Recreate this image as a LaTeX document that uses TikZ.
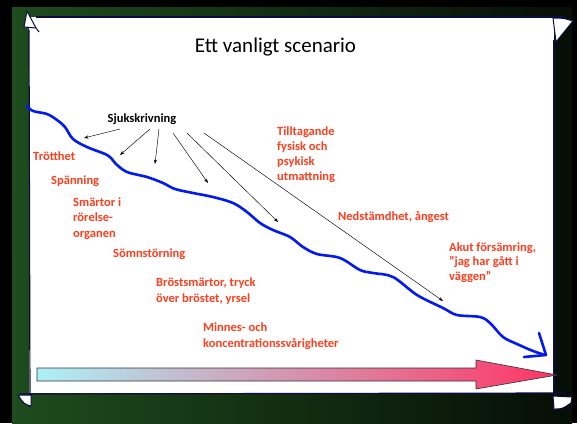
\documentclass[tikz,border=0pt]{standalone}
\usepackage{fontspec}
\setmainfont{Carlito}
\usetikzlibrary{arrows.meta}
\definecolor{lbl}{RGB}{255,62,30}
\definecolor{navy}{RGB}{12,12,64}
\definecolor{bgreen}{RGB}{30,76,30}
\definecolor{bdark}{RGB}{6,14,6}
\definecolor{curve}{RGB}{0,26,240}
\definecolor{acyan}{RGB}{172,240,246}
\definecolor{amid}{RGB}{205,192,208}
\definecolor{apink}{RGB}{255,52,100}
\tikzset{
  lab/.style={font=\fontsize{12.5}{#1}\selectfont\bfseries, text=lbl, inner sep=0pt, anchor=base west, align=left},
  lab/.default=15,
  ptr/.style={draw=black, line width=0.45pt, -{Stealth[length=4.5pt,width=3.2pt]}},
  edge/.style={draw=navy, line width=1.2pt},
  flap/.style={fill=white, draw=navy, line width=1pt, line join=round},
}
\begin{document}
\begin{tikzpicture}[x=1pt,y=-1pt]
\useasboundingbox (0,0) rectangle (577,423);
% background
\fill[black] (0,0) rectangle (577,423);
\shade[left color=bgreen, right color=bdark] (12,7) rectangle (572,423);
% paper
\fill[white] (29,17) rectangle (554,393);
\draw[edge] (36,17) -- (565,17);
\draw[edge] (554,40) -- (554,393);
\draw[edge] (20,394) -- (566,393);
\draw[edge] (29,30) -- (30,407);
% curled corners
\draw[flap] (27,11) -- (36,28) -- (24,27) -- cycle;
\draw[navy, line width=1pt] (36,28) -- (39,32);
\draw[flap] (553,18) .. controls (563,18) .. (573,21) -- (556,42) -- cycle;
\draw[flap] (18,395) -- (31,395) -- (31,406) .. controls (24,404) .. (18,395);
\draw[flap] (553,396) -- (572,397) -- (571,403) .. controls (562,409) .. (554,409) -- cycle;
% big arrow
\shade[left color=acyan, middle color=amid, right color=apink, draw=black!80, line width=0.6pt]
  (37,368) -- (476,368) -- (476,360) -- (557,375) -- (476,389) -- (476,381) -- (37,381) -- cycle;
% title
\node[font=\fontsize{21}{25}\selectfont, inner sep=0pt, anchor=base] (title) at (275.5,52) {Ett vanligt scenario};
% blue curve
\draw[curve, line width=2.6pt, line cap=round, line join=round] plot[smooth, tension=0.55] coordinates {
 (27,106) (33,111) (47,114) (57,120) (65,127) (73,139) (87,147) (105,154) (111,158) (116,164)
 (127,172) (147,177) (163,183) (175,189) (193,193) (213,197) (233,203) (247,212) (260,223)
 (273,230) (290,237) (303,247) (317,254) (340,258) (360,270) (373,273) (393,277) (417,295)
 (443,308) (457,315) (480,317) (490,323) (503,337) (517,344) (533,351) (545,355)};
\draw[curve, line width=2.6pt, line cap=round, line join=round] (539,333) -- (546,355) -- (524,357);
% labels (base anchor = last line)
\node[font=\fontsize{12.5}{15}\selectfont\bfseries, inner sep=0pt, anchor=base] (sj) at (142,122) {Sjukskrivning};
\node[lab] (t1) at (33,160) {Trötthet};
\node[lab] (t2) at (51,184) {Spänning};
\node[lab=15.5] (t3) at (73,237) {Smärtor i\\rörelse-\\organen};
\node[lab] (t4) at (113,257) {Sömnstörning};
\node[lab=16] (t5) at (156,302) {Bröstsmärtor, tryck\\över bröstet, yrsel};
\node[lab=16] (t6) at (203,347) {Minnes- och\\koncentrationssvårigheter};
\node[lab=14.7] (t7) at (277,180) {Tilltagande\\fysisk och\\psykisk\\utmattning};
\node[lab] (t8) at (338,220) {Nedstämdhet, ångest};
\node[lab=14.5] (t9) at (449,280) {Akut försämring,\\”jag har gått i\\väggen”};
% pointers
\coordinate (s1) at (120,129); \coordinate (e1) at (84,138);
\coordinate (s2) at (150,129); \coordinate (e2) at (120,155);
\coordinate (s3) at (159,129); \coordinate (e3) at (155,164);
\coordinate (s4) at (173,133); \coordinate (e4) at (208,183);
\coordinate (s5) at (187,133); \coordinate (e5) at (278,222);
\coordinate (s6) at (204,133); \coordinate (e6) at (443,301);
\foreach \i in {1,...,6} \draw[ptr] (s\i) -- (e\i);
\end{tikzpicture}
\end{document}
